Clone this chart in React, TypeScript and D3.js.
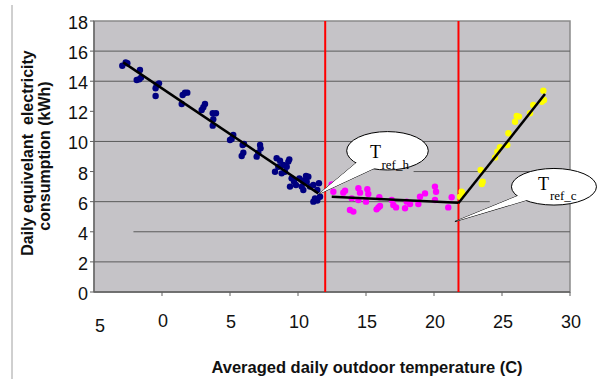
import React from "react";
import * as d3 from "d3";

// daily kWh vs mean outdoor temperature
const heatingPoints: [number, number][] = [
  [-2.92, 15.03], [-2.67, 15.25], [-2.55, 15.19], [-1.86, 14.08], [-1.67, 14.13],
  [-1.54, 14.24], [-1.62, 14.75], [-0.39, 13.75], [-0.22, 13.86], [-0.47, 13.53],
  [-0.47, 13.02], [1.45, 12.49], [1.52, 13.08], [1.69, 13.24], [1.86, 13.24],
  [2.92, 12.09], [3.04, 12.27], [3.16, 12.49], [3.73, 11.87], [3.97, 11.87],
  [3.77, 11.47], [3.73, 11.05], [5.12, 10.16], [5.24, 10.43], [5.0, 10.1],
  [5.93, 9.76], [6.03, 9.83], [5.86, 9.03], [5.98, 9.25], [6.96, 8.99],
  [7.08, 9.25], [7.21, 9.76], [7.25, 9.54], [8.43, 8.88], [8.68, 8.72],
  [8.55, 8.32], [8.31, 7.99], [8.8, 7.88], [8.92, 8.44], [9.17, 8.32],
  [9.04, 7.99], [9.29, 8.66], [9.36, 8.81], [9.53, 7.55], [9.71, 7.33],
  [9.85, 7.11], [9.41, 7.0], [10.1, 7.55], [10.34, 7.39], [10.59, 7.7],
  [10.76, 7.66], [10.64, 7.33], [10.27, 7.0], [10.39, 6.77], [10.88, 7.0],
  [11.13, 7.11], [11.54, 7.22], [11.42, 6.77], [11.25, 6.22], [11.42, 6.07],
  [11.62, 6.33], [11.13, 6.0],
];

const baseloadPoints: [number, number][] = [
  [12.48, 7.15], [12.6, 6.66], [13.46, 6.73], [13.33, 6.6], [13.95, 6.22],
  [13.82, 5.45], [14.07, 5.34], [14.44, 6.89], [14.56, 6.6], [14.44, 6.11],
  [15.1, 6.82], [15.17, 6.51], [15.0, 6.0], [15.91, 5.62], [16.03, 5.71],
  [15.78, 5.49], [15.98, 6.29], [16.89, 6.11], [17.01, 5.78], [17.21, 5.62],
  [17.87, 5.56], [17.99, 6.0], [18.24, 5.84], [18.85, 5.84], [18.97, 6.33],
  [19.34, 6.55], [20.07, 7.0], [20.15, 6.66], [20.07, 6.11], [21.05, 5.62],
  [21.3, 6.29],
];

const coolingPoints: [number, number][] = [
  [21.91, 6.33], [22.11, 6.51], [22.03, 6.66], [23.43, 8.1], [23.58, 7.33],
  [23.51, 7.17], [24.49, 8.94], [24.66, 9.32], [24.85, 9.61], [25.39, 9.76],
  [25.47, 10.54], [25.96, 11.31], [26.08, 11.69], [26.25, 11.65], [27.06, 11.87],
  [27.3, 12.42], [27.92, 12.64], [28.04, 13.37], [28.09, 12.75],
];

// fitted segments (start, end)
const heatingFit: [number, number][] = [[-2.85, 15.25], [11.49, 6.55]];
const baseloadFit: [number, number][] = [[12.48, 6.33], [21.79, 5.93]];
const coolingFit: [number, number][] = [[21.79, 5.89], [28.16, 13.15]];

// balance point temperatures
const refTemps = [12, 21.8];

const yTicks = [0, 2, 4, 6, 8, 10, 12, 14, 16, 18];
const xTicks = [-5, 0, 5, 10, 15, 20, 25, 30];
const xTickLabels = ["5", "0", "5", "10", "15", "20", "25", "30"];

// gridlines in the original are patchy: [value, from temp, to temp]
const gridLines: [number, number, number][] = [
  [2, -5, 30], [4, -2.1, 30], [6, -5, 24.1], [8, 18.5, 30],
  [10, -5, 30], [14, -5, 30], [16, -5, 30],
];

// callouts: label, subscript, bubble centre (temp, kWh), tail tip (temp, kWh)
const callouts = [
  { main: "T", sub: "ref_h", cx: 16.58, cy: 9.38, tx: 11.54, ty: 6.51 },
  { main: "T", sub: "ref_c", cx: 28.82, cy: 6.99, tx: 21.54, ty: 4.68 },
];

const W = 599;
const H = 379;
const sans = "'Liberation Sans', Arial, sans-serif";
const serif = "'Liberation Serif', 'Times New Roman', serif";

export default function App() {
  const x = d3.scaleLinear().domain([-5, 30]).range([94, 570]);
  const y = d3.scaleLinear().domain([0, 18]).range([292, 21]);
  const line = d3.line<[number, number]>().x((d) => x(d[0])).y((d) => y(d[1]));

  // bubble geometry per callout (pixel sizes and text offsets)
  const bubble = [
    { rx: 40.8, ry: 19.2, b1: [-30, 11], b2: [-12, 17], t: [-17.5, 7.5], s: [-6, 18] },
    { rx: 42.5, ry: 18.3, b1: [-36, 9], b2: [-26, 13], t: [-16, 3.5], s: [-4, 13.5] },
  ];

  return (
    <svg
      width={W}
      height={H}
      style={{ position: "absolute", left: 0, top: 0, background: "#fff" }}
    >
      <line x1={12} x2={12} y1={5} y2={H} stroke="#a0a0a0" strokeWidth={1} />

      {/* plot area */}
      <rect x={94} y={21} width={476} height={271} fill="#c5c3c7" stroke="#8a8a8a" strokeWidth={1.5} />

      {gridLines.map(([v, a, b]) => (
        <line key={v} x1={x(a)} x2={x(b)} y1={y(v)} y2={y(v)} stroke="#5a5a5a" strokeWidth={1} />
      ))}

      {/* axes */}
      <line x1={94} x2={94} y1={21} y2={292} stroke="#606060" strokeWidth={1.2} />
      <line x1={94} x2={570} y1={292} y2={292} stroke="#606060" strokeWidth={1.5} />
      {yTicks.map((v) => (
        <g key={v}>
          <line x1={90} x2={94} y1={y(v)} y2={y(v)} stroke="#606060" />
          <text x={88} y={y(v) + 8} textAnchor="end" fontFamily={sans} fontSize={18} fill="#111">
            {v}
          </text>
        </g>
      ))}
      {xTicks.map((v, i) => (
        <g key={v}>
          {v > -5 && <line x1={x(v)} x2={x(v)} y1={292} y2={296} stroke="#606060" />}
          <text
            x={x(v) + (i === 0 ? 6 : 1)}
            y={i === 0 ? 332 : i === 1 ? 327 : 328}
            textAnchor="middle"
            fontFamily={sans}
            fontSize={18}
            fill="#111"
          >
            {xTickLabels[i]}
          </text>
        </g>
      ))}

      {refTemps.map((t) => (
        <line key={t} x1={x(t)} x2={x(t)} y1={21} y2={292} stroke="#ff0000" strokeWidth={2} />
      ))}

      {heatingPoints.map((d, i) => (
        <circle key={"h" + i} cx={x(d[0])} cy={y(d[1])} r={3.2} fill="#000080" />
      ))}
      {baseloadPoints.map((d, i) => (
        <circle key={"b" + i} cx={x(d[0])} cy={y(d[1])} r={3.2} fill="#ff00ff" />
      ))}
      {coolingPoints.map((d, i) => (
        <circle key={"c" + i} cx={x(d[0])} cy={y(d[1])} r={3.2} fill="#ffff00" />
      ))}

      {[heatingFit, baseloadFit, coolingFit].map((f, i) => (
        <path key={i} d={line(f) || ""} stroke="#000" strokeWidth={2.5} fill="none" />
      ))}

      {callouts.map((c, i) => {
        const g = bubble[i];
        const cx = x(c.cx);
        const cy = y(c.cy);
        const tail = `M${cx + g.b1[0]},${cy + g.b1[1]}L${x(c.tx)},${y(c.ty)}L${cx + g.b2[0]},${cy + g.b2[1]}Z`;
        return (
          <g key={c.sub}>
            <path d={tail} fill="#fff" stroke="#000" strokeWidth={1} />
            <ellipse cx={cx} cy={cy} rx={g.rx} ry={g.ry} fill="#fff" stroke="#000" strokeWidth={1} />
            <path d={tail} fill="#fff" stroke="none" />
            <text x={cx + g.t[0]} y={cy + g.t[1]} fontFamily={serif} fontSize={18} fill="#000">
              {c.main}
            </text>
            <text x={cx + g.s[0]} y={cy + g.s[1]} fontFamily={serif} fontSize={13} fill="#000">
              {c.sub}
            </text>
          </g>
        );
      })}

      {/* titles */}
      <text
        transform="translate(33,153) rotate(-90)"
        textAnchor="middle"
        fontFamily={sans}
        fontWeight="bold"
        fontSize={16}
        fill="#111"
        style={{ whiteSpace: "pre" }}
      >
        {"Daily equivelant  electricity"}
      </text>
      <text
        transform="translate(50,156) rotate(-90)"
        textAnchor="middle"
        fontFamily={sans}
        fontWeight="bold"
        fontSize={16}
        fill="#111"
      >
        consumption (kWh)
      </text>
      <text x={367} y={373} textAnchor="middle" fontFamily={sans} fontWeight="bold" fontSize={16.5} fill="#111">
        Averaged daily outdoor temperature (C)
      </text>
    </svg>
  );
}
